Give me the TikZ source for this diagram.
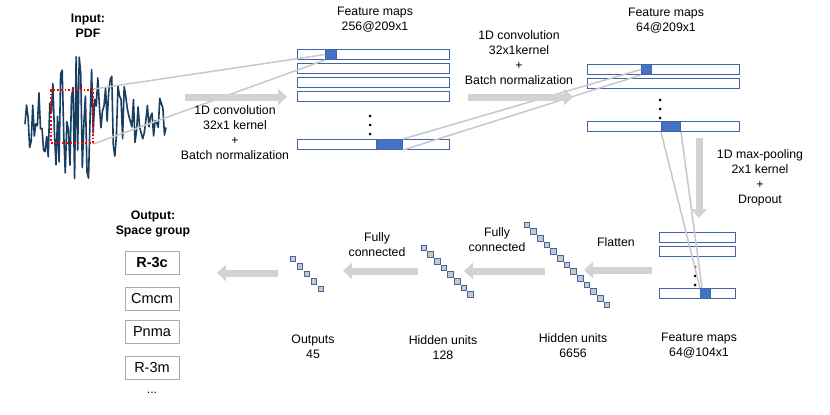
\documentclass[tikz,border=0pt]{standalone}
\usepackage{fontspec}
\setmainfont{Liberation Sans}
\usetikzlibrary{arrows.meta}
\definecolor{sigblue}{RGB}{24,62,98}
\definecolor{mapline}{RGB}{66,100,168}
\definecolor{mapfill}{RGB}{68,114,196}
\definecolor{flowgray}{RGB}{210,210,210}
\definecolor{projgray}{RGB}{200,200,200}
\definecolor{unitgray}{RGB}{200,200,200}
\definecolor{boxgray}{RGB}{170,170,170}
\begin{document}
\begin{tikzpicture}[x=1pt,y=-1pt,
  every node/.style={font=\fontsize{12.3}{15}\selectfont,align=center,inner sep=0pt},
  fmap/.style={draw=mapline,line width=1.2pt,minimum width=#1,minimum height=10pt,anchor=north west},
  patch/.style={fill=mapfill,draw=mapline,line width=1pt,minimum width=#1,minimum height=10pt,anchor=north west},
  unit/.style={fill=unitgray,draw=mapline,line width=0.9pt,minimum size=5.6pt},
  flow/.style={flowgray,line width=7pt,-{Triangle[length=9pt,width=16pt]}},
  proj/.style={projgray,line width=1.5pt},
  outbox/.style={draw=boxgray,line width=1pt,minimum width=54pt,minimum height=23pt,font=\fontsize{14.5}{17}\selectfont}]
  \useasboundingbox (0,0) rectangle (830,415);
  % input signal
  \pgfmathsetseed{7}
  \draw[sigblue,line width=1.6pt,line join=round]
    plot[samples=92,domain=25:166] (\x,{118+rand*(20+42*exp(-((\x-80)/42)^2))});
  \node[font=\fontsize{12.3}{15}\selectfont\bfseries] (inp) at (88,26) {Input:\\PDF};
  \node[draw=red,line width=1.8pt,dotted,minimum width=42pt,minimum height=53pt,anchor=north west] (roi) at (50,89) {};
  % feature maps 256@209x1
  \foreach \y [count=\i] in {49,63,77,91}{
    \node[fmap=152pt] (a\i) at (297,\y) {};
  }
  \node[fmap=152pt] (an) at (297,139) {};
  \node[patch=11pt] (pa) at (325,49) {};
  \node[patch=26pt] (pb) at (376,139) {};
  \foreach \y in {116,125,134} \fill (370,\y) circle (1.5pt);
  \node (fa) at (375,20) {Feature maps\\256@209x1};
  % feature maps 64@209x1
  \node[fmap=152pt] (b1) at (587,64) {};
  \node[fmap=152pt] (b2) at (587,78) {};
  \node[fmap=152pt] (bn) at (587,121) {};
  \node[patch=10pt] (pc) at (641,64) {};
  \node[patch=19pt] (pd) at (661,121) {};
  \foreach \y in {100,109,118} \fill (660,\y) circle (1.5pt);
  \node (fb) at (666,21) {Feature maps\\64@209x1};
  % feature maps 64@104x1
  \node[fmap=76pt] (c1) at (659,232) {};
  \node[fmap=76pt] (c2) at (659,246) {};
  \node[fmap=76pt] (cn) at (659,288) {};
  \node[patch=10pt] (pe) at (700,288) {};
  \foreach \y in {267,276,285} \fill (695,\y) circle (1.5pt);
  \node (fc) at (699,346) {Feature maps\\64@104x1};
  % projections
  \draw[proj] (roi.north east) -- (pa.west);
  \draw[proj] (roi.south east) -- (pa.south west);
  \draw[proj] (pb.north east) -- (pc.west);
  \draw[proj] (pb.south east) -- (pc.south west);
  \draw[proj] (pd.south west) -- (pe.north west);
  \draw[proj] (pd.south east) -- ([xshift=2pt]pe.north west);
  % dense layers
  \foreach \i in {1,...,13} \node[unit] (h\i) at ({527+6.67*(\i-1)},{225+6.67*(\i-1)}) {};
  \foreach \i in {1,...,8} \node[unit] (g\i) at ({424+6.67*(\i-1)},{248+6.67*(\i-1)}) {};
  \foreach \i in {1,...,5} \node[unit] (o\i) at ({293+7*(\i-1)},{259+7.5*(\i-1)}) {};
  \node (lh) at (573,346) {Hidden units\\6656};
  \node (lg) at (443,348) {Hidden units\\128};
  \node (lo) at (313,347) {Outputs\\45};
  % output classes
  \node[font=\fontsize{12.3}{15}\selectfont\bfseries] (out) at (153,224.5) {Output:\\Space group};
  \node[outbox,font=\fontsize{14.5}{17}\selectfont\bfseries] (s1) at (152,262.5) {R-3c};
  \node[outbox] (s2) at (152,298.5) {Cmcm};
  \node[outbox] (s3) at (152,332) {Pnma};
  \node[outbox] (s4) at (152,367.5) {R-3m};
  \node (s5) at (152,393) {...};
  % flow arrows
  \coordinate (f1s) at (185,97);  \coordinate (f1e) at (287,97);
  \coordinate (f2s) at (468,97);  \coordinate (f2e) at (573,97);
  \coordinate (f3s) at (699,138); \coordinate (f3e) at (699,218);
  \coordinate (f4s) at (652,270); \coordinate (f4e) at (584,270);
  \coordinate (f5s) at (545,271); \coordinate (f5e) at (464,271);
  \coordinate (f6s) at (418,271); \coordinate (f6e) at (343,271);
  \coordinate (f7s) at (278,273); \coordinate (f7e) at (217,273);
  \foreach \k in {1,...,7} \draw[flow] (f\k s) -- (f\k e);
  \node (t1) at (235,132.5) {1D convolution\\32x1 kernel\\+\\Batch normalization};
  \node (t2) at (519,57.5) {1D convolution\\32x1kernel\\+\\Batch normalization};
  \node (t3) at (760,177.5) {1D max-pooling\\2x1 kernel\\+\\Dropout};
  \node (t4) at (616,242) {Flatten};
  \node (t5) at (497,239.5) {Fully\\connected};
  \node (t6) at (377,244.5) {Fully\\connected};
\end{tikzpicture}
\end{document}
